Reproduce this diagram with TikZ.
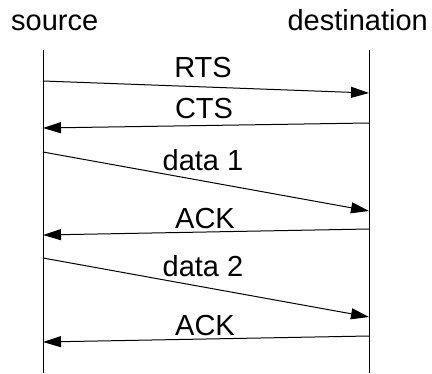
\documentclass[tikz,border=0pt]{standalone}
\usepackage{fontspec}
\setmainfont{Liberation Sans}
\usetikzlibrary{arrows.meta}
\begin{document}
\begin{tikzpicture}[x=1pt,y=-1pt,
  lbl/.style={anchor=base,inner sep=0pt,font=\fontsize{29}{32}\selectfont},
  lifeline/.style={line width=1pt},
  msg/.style={line width=1pt,-{Triangle[length=18pt,width=11pt]}}]
\useasboundingbox (0,0) rectangle (432,373);
% headers
\node[lbl,anchor=base west] (src) at (11,30) {source};
\node[lbl,anchor=base east] (dst) at (428,30) {destination};
% lifelines
\coordinate (stop) at (43,50);  \coordinate (sbot) at (43,373);
\coordinate (dtop) at (369,50); \coordinate (dbot) at (369,373);
\draw[lifeline] (stop) -- (sbot);
\draw[lifeline] (dtop) -- (dbot);
% message endpoints
\coordinate (a1) at (43,81);   \coordinate (b1) at (369,93);
\coordinate (a2) at (369,123); \coordinate (b2) at (43,128);
\coordinate (a3) at (43,152);  \coordinate (b3) at (369,211);
\coordinate (a4) at (369,229); \coordinate (b4) at (43,235);
\coordinate (a5) at (43,258);  \coordinate (b5) at (369,317);
\coordinate (a6) at (369,336); \coordinate (b6) at (43,342);
\draw[msg] (a1) -- (b1);
\draw[msg] (a2) -- (b2);
\draw[msg] (a3) -- (b3);
\draw[msg] (a4) -- (b4);
\draw[msg] (a5) -- (b5);
\draw[msg] (a6) -- (b6);
% labels
\node[lbl] (l1) at (203,77) {RTS};
\node[lbl] (l2) at (204,118) {CTS};
\node[lbl] (l3) at (203,170) {data 1};
\node[lbl] (l4) at (205,228) {ACK};
\node[lbl] (l5) at (203,276) {data 2};
\node[lbl] (l6) at (205,335) {ACK};
\end{tikzpicture}
\end{document}
